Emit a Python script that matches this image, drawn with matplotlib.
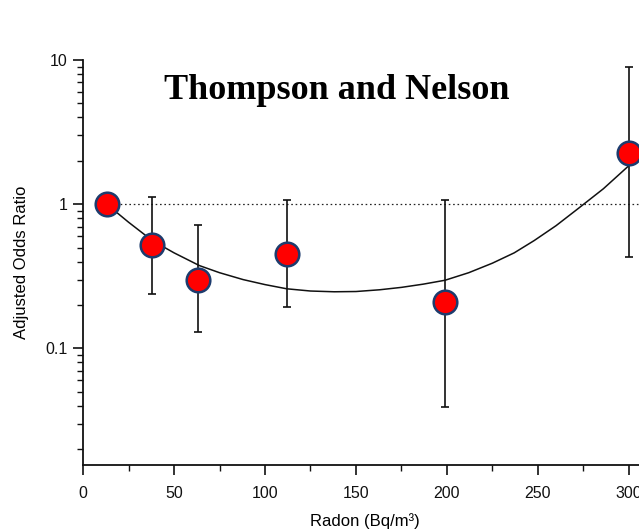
import matplotlib
matplotlib.use('Agg')
import matplotlib.pyplot as plt
from matplotlib.ticker import FixedLocator, FixedFormatter, LogLocator, NullFormatter, MultipleLocator

plt.rcParams['font.family'] = ['Liberation Sans', 'DejaVu Sans']

# radon level vs adjusted odds ratio with 95% CI
radon = [13, 38, 63, 112, 199, 300]
odds_ratio = [1.0, 0.52, 0.30, 0.45, 0.21, 2.26]
ci_low = [1.0, 0.24, 0.13, 0.195, 0.039, 0.43]
ci_high = [1.0, 1.12, 0.72, 1.07, 1.07, 9.0]

# fitted trend curve
fit_x = [13, 25, 38, 50, 64, 75, 88, 100, 112, 125, 138, 150, 163, 175, 187, 199,
         212, 225, 237, 248, 260, 272, 286, 300]
fit_y = [1.0, 0.75, 0.56, 0.46, 0.375, 0.335, 0.30, 0.277, 0.259, 0.250, 0.247, 0.248,
         0.255, 0.265, 0.279, 0.297, 0.335, 0.39, 0.46, 0.56, 0.71, 0.93, 1.28, 1.85]

# reference line OR = 1
ref_x = [13, 310]
ref_y = [1.0, 1.0]

fig = plt.figure(figsize=(6.39, 5.31), dpi=100)
ax = fig.add_axes([0.130, 0.124, 0.8826, 0.763])

ax.plot(ref_x, ref_y, color='#222222', lw=0.9, ls=(0, (1.3, 2.2)), zorder=1)
ax.plot(fit_x, fit_y, color='#111111', lw=1.1, zorder=2)

lower = [v - lo for v, lo in zip(odds_ratio, ci_low)]
upper = [hi - v for v, hi in zip(odds_ratio, ci_high)]
has_ci = [lo != hi for lo, hi in zip(ci_low, ci_high)]
ex = [x for x, h in zip(radon, has_ci) if h]
ey = [y for y, h in zip(odds_ratio, has_ci) if h]
el = [l for l, h in zip(lower, has_ci) if h]
eu = [u for u, h in zip(upper, has_ci) if h]
ax.errorbar(ex, ey, yerr=[el, eu], fmt='none', ecolor='#111111',
            elinewidth=1.2, capsize=3, capthick=1.2, zorder=3)

ax.plot(radon, odds_ratio, 'o', ms=17, mfc='#ff0000', mec='#1d3c6e', mew=1.8,
        zorder=4, clip_on=False)

ax.set_yscale('log')
ax.set_ylim(0.0155, 10)
ax.set_xlim(0, 310)

ax.yaxis.set_major_locator(FixedLocator([0.1, 1, 10]))
ax.yaxis.set_major_formatter(FixedFormatter(['0.1', '1', '10']))
ax.yaxis.set_minor_locator(LogLocator(base=10, subs=range(2, 10)))
ax.yaxis.set_minor_formatter(NullFormatter())

ax.xaxis.set_major_locator(MultipleLocator(50))
ax.xaxis.set_minor_locator(MultipleLocator(25))

for side in ['top', 'right']:
    ax.spines[side].set_visible(False)
for side in ['left', 'bottom']:
    ax.spines[side].set_linewidth(1.3)
    ax.spines[side].set_color('#111111')

ax.tick_params(axis='both', which='major', direction='out', length=7, width=1.2,
               labelsize=11.5, colors='#111111')
ax.tick_params(axis='x', which='major', pad=8)
ax.tick_params(axis='y', which='major', pad=4)
ax.tick_params(axis='both', which='minor', direction='out', length=4, width=1.0,
               colors='#111111')

ax.set_xlabel('Radon (Bq/m³)', fontsize=12, labelpad=9)
ax.set_ylabel('Adjusted Odds Ratio', fontsize=12, labelpad=12)

fig.text(0.5266, 0.8305, 'Thompson and Nelson', ha='center', va='center',
         fontsize=26, fontweight='bold', family=['Liberation Serif', 'DejaVu Serif'])

fig.savefig('out.png', dpi=100)
